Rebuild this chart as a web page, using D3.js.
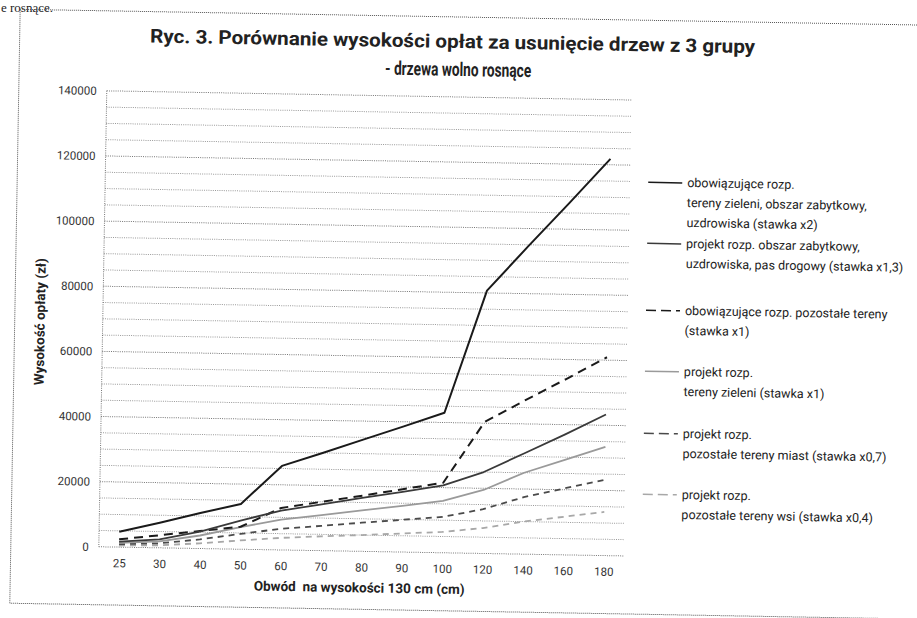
<!DOCTYPE html>
<html>
<head>
<meta charset="utf-8">
<script src="https://cdn.jsdelivr.net/npm/d3@7"></script>
<style>
  html, body { margin: 0; padding: 0; background: #fff; }
  svg { display: block; }
</style>
</head>
<body>
<div id="chart"></div>
<script>
// categories on the x axis (circumference in cm)
const categories = ["25", "30", "40", "50", "60", "70", "80", "90", "100", "120", "140", "160", "180"];

// fees (zł)
const obowZieleni = [4700, 7700, 10900, 13900, 25800, 30000, 34300, 38600, 43000, 80700, 94500, 108000, 121800];
const projektZabytkowy = [1700, 2600, 5200, 8800, 12100, 14200, 16400, 18500, 20700, 25000, 31000, 37000, 43300];
const obowPozostale = [2400, 3850, 5400, 6900, 12900, 15000, 17100, 19300, 21500, 40400, 47300, 54000, 60900];
const projektZieleni = [1300, 2000, 4000, 6800, 9300, 10900, 12600, 14200, 15900, 19500, 25000, 29200, 33400];
const projektMiast = [900, 1400, 2800, 4700, 6500, 7600, 8800, 9900, 11000, 13600, 17500, 20400, 23300];
const projektWsi = [500, 800, 1600, 2700, 3700, 4400, 5000, 5700, 6400, 7800, 10000, 11700, 13400];

const yTicks = [0, 20000, 40000, 60000, 80000, 100000, 120000, 140000];

const legendLabels = [
  ["obowiązujące rozp.", "tereny zieleni, obszar zabytkowy,", "uzdrowiska (stawka x2)"],
  ["projekt rozp. obszar zabytkowy,", "uzdrowiska, pas drogowy (stawka x1,3)"],
  ["obowiązujące rozp. pozostałe tereny", "(stawka x1)"],
  ["projekt rozp.", "tereny zieleni (stawka x1)"],
  ["projekt rozp.", "pozostałe tereny miast (stawka x0,7)"],
  ["projekt rozp.", "pozostałe tereny wsi (stawka x0,4)"]
];

const series = [
  {values: obowZieleni, color: "#1a1a1a", dash: null, width: 2},
  {values: projektZabytkowy, color: "#3a3a3a", dash: null, width: 1.8},
  {values: obowPozostale, color: "#1a1a1a", dash: "9,6", width: 2},
  {values: projektZieleni, color: "#9a9a9a", dash: null, width: 1.8},
  {values: projektMiast, color: "#4a4a4a", dash: "6,5", width: 1.8},
  {values: projektWsi, color: "#a8a8a8", dash: "6,5", width: 1.8}
];
series.forEach((s, i) => s.label = legendLabels[i]);

const width = 917, height = 618;
const margins = {left: 103, top: 97, right: 289, bottom: 65};
const font = "Roboto, 'Open Sans', sans-serif";

const svg = d3.select("#chart").append("svg")
    .attr("width", width)
    .attr("height", height)
    .style("font-family", font);

// leftover text from the scanned page above the figure
svg.append("text")
    .attr("x", 1)
    .attr("y", 12)
    .attr("font-family", "'Liberation Serif', 'DejaVu Serif', serif")
    .attr("font-size", 13)
    .attr("fill", "#222")
    .text("e rosnące.");

// the scan is tilted by about one degree
const g = svg.append("g")
    .attr("transform", "rotate(1, 458, 309)");

// outer frame
g.append("rect")
    .attr("x", 15).attr("y", 17)
    .attr("width", 940).attr("height", 594)
    .attr("fill", "none")
    .attr("stroke", "#555")
    .attr("stroke-width", 1)
    .attr("stroke-dasharray", "1,1");

const xScale = d3.scalePoint()
    .domain(categories)
    .range([margins.left, width - margins.right])
    .padding(0.5);

const yScale = d3.scaleLinear()
    .domain([0, 140000])
    .range([height - margins.bottom, margins.top]);

// dotted grid every 5000
const grid = d3.range(0, 140001, 5000);
g.append("g")
    .selectAll("line")
    .data(grid)
    .join("line")
    .attr("x1", margins.left)
    .attr("x2", width - margins.right)
    .attr("y1", d => yScale(d))
    .attr("y2", d => yScale(d))
    .attr("stroke", d => d % 20000 === 0 ? "#777" : "#999")
    .attr("stroke-width", 1)
    .attr("stroke-dasharray", "1,1.2");

// y axis line
g.append("line")
    .attr("x1", margins.left).attr("x2", margins.left)
    .attr("y1", yScale(140000)).attr("y2", yScale(0))
    .attr("stroke", "#777")
    .attr("stroke-dasharray", "1,1.2");

const yAxis = d3.axisLeft(yScale)
    .tickValues(yTicks)
    .tickSize(0)
    .tickPadding(10)
    .tickFormat(d3.format("d"));

g.append("g")
    .attr("class", "y-axis")
    .attr("transform", `translate(${margins.left}, 0)`)
    .call(yAxis)
    .call(a => a.select(".domain").remove())
    .selectAll("text")
    .attr("font-family", font)
    .attr("font-size", 11.5)
    .attr("fill", "#333");

const xAxis = d3.axisBottom(xScale)
    .tickSize(0)
    .tickPadding(12);

g.append("g")
    .attr("class", "x-axis")
    .attr("transform", `translate(0, ${yScale(0)})`)
    .call(xAxis)
    .call(a => a.select(".domain").remove())
    .selectAll("text")
    .attr("font-family", font)
    .attr("font-size", 11.5)
    .attr("fill", "#333");

// lines
const line = d3.line()
    .x((d, i) => xScale(categories[i]))
    .y(d => yScale(d));

g.append("g")
    .selectAll("path")
    .data(series.slice().reverse())
    .join("path")
    .attr("fill", "none")
    .attr("stroke", d => d.color)
    .attr("stroke-width", d => d.width)
    .attr("stroke-dasharray", d => d.dash)
    .attr("stroke-linejoin", "round")
    .attr("d", d => line(d.values));

// titles
g.append("text")
    .attr("x", 448).attr("y", 48)
    .attr("text-anchor", "middle")
    .attr("font-size", 19)
    .attr("font-weight", "bold")
    .attr("fill", "#222")
    .attr("textLength", 605)
    .attr("lengthAdjust", "spacingAndGlyphs")
    .text("Ryc. 3. Porównanie wysokości opłat za usunięcie drzew z 3 grupy");

g.append("text")
    .attr("x", 454).attr("y", 76)
    .attr("text-anchor", "middle")
    .attr("font-size", 19)
    .attr("font-weight", "bold")
    .attr("fill", "#222")
    .attr("textLength", 146)
    .attr("lengthAdjust", "spacingAndGlyphs")
    .text("- drzewa wolno rosnące");

g.append("text")
    .attr("x", 364).attr("y", 594)
    .attr("text-anchor", "middle")
    .attr("font-size", 13.5)
    .attr("font-weight", "bold")
    .attr("fill", "#222")
    .attr("xml:space", "preserve")
    .text("Obwód  na wysokości 130 cm (cm)");

g.append("text")
    .attr("transform", "translate(45, 329) rotate(-90)")
    .attr("text-anchor", "middle")
    .attr("font-size", 13.5)
    .attr("font-weight", "bold")
    .attr("fill", "#222")
    .text("Wysokość opłaty (zł)");

// legend
const legendY = [179, 240, 307, 368, 430, 491];
const legend = g.append("g")
    .selectAll("g")
    .data(series)
    .join("g")
    .attr("transform", (d, i) => `translate(646, ${legendY[i]})`);

legend.append("line")
    .attr("x1", 0).attr("x2", 34)
    .attr("y1", 0).attr("y2", 0)
    .attr("stroke", d => d.color)
    .attr("stroke-width", 1.5)
    .attr("stroke-dasharray", d => d.dash ? "10,5" : null);

legend.append("text")
    .attr("x", 39)
    .attr("y", 4)
    .attr("font-size", 12.5)
    .attr("fill", "#222")
    .selectAll("tspan")
    .data(d => d.label)
    .join("tspan")
    .attr("x", 39)
    .attr("dy", (d, i) => i === 0 ? 0 : 20)
    .text(d => d);
</script>
</body>
</html>
